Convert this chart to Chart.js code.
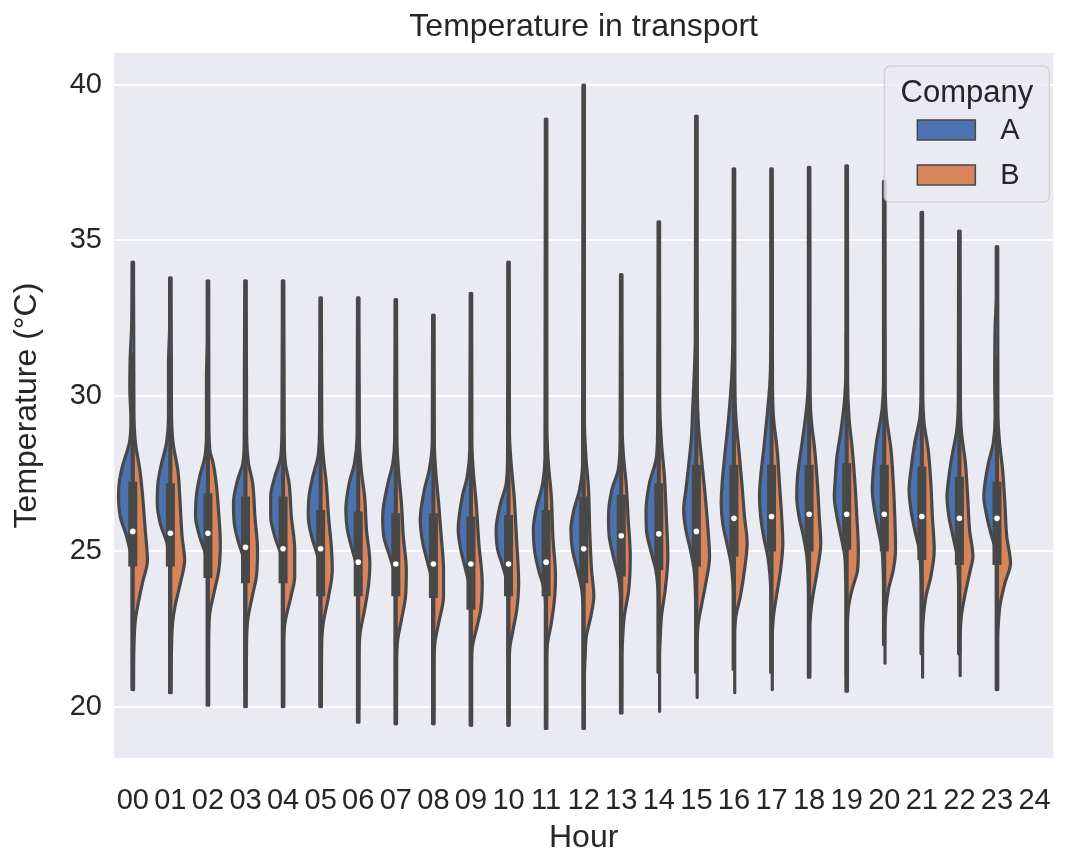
<!DOCTYPE html>
<html lang="en">
<head>
<meta charset="utf-8"/>
<title>Temperature in transport</title>
<script src="https://cdn.jsdelivr.net/npm/chart.js@4.4.0/dist/chart.umd.min.js"></script>
<style>
    body { margin: 0; background: #ffffff; }
    .wrapper { width: 1069px; height: 857px; position: relative; }
</style>
</head>
<body>
<div class="wrapper"><canvas id="violins"></canvas></div>

<script>
    // hours on the x axis (24 is an empty slot at the end)
    var hourLabels = ['00','01','02','03','04','05','06','07','08','09','10','11',
                      '12','13','14','15','16','17','18','19','20','21','22','23','24'];
    var hours = [0,1,2,3,4,5,6,7,8,9,10,11,12,13,14,15,16,17,18,19,20,21,22,23];
    var yTickValues = [20, 25, 30, 35, 40];

    // half-violin outlines: [temperature, half width in hour units], low to high
    var aShape = [
        [[20.55,0.02],[24.3,0.02],[24.8,0.04],[25.5,0.17],[26.1,0.33],[26.8,0.38],[27.3,0.35],[27.8,0.26],[28.5,0.09],[29.2,0.05],[30.3,0.08],[31.2,0.07],[32.3,0.03],[34.3,0.02]],
        [[20.45,0.02],[24.2,0.02],[24.7,0.03],[25.26,0.09],[25.9,0.27],[26.55,0.35],[27.2,0.33],[27.8,0.24],[28.5,0.1],[29.3,0.05],[31.0,0.05],[32.3,0.02],[33.8,0.02]],
        [[20.05,0.02],[24.2,0.02],[24.83,0.05],[25.47,0.22],[26.12,0.33],[26.76,0.31],[27.4,0.22],[28.05,0.08],[28.8,0.04],[30.5,0.04],[31.8,0.02],[33.7,0.02]],
        [[20.0,0.02],[24.0,0.02],[24.62,0.03],[25.26,0.18],[25.9,0.3],[26.55,0.32],[27.3,0.21],[27.83,0.07],[28.6,0.035],[30.5,0.03],[33.7,0.02]],
        [[20.0,0.02],[24.1,0.02],[24.72,0.03],[25.47,0.22],[26.12,0.33],[26.76,0.33],[27.4,0.22],[28.05,0.06],[29.0,0.03],[33.7,0.02]],
        [[20.0,0.02],[23.9,0.02],[24.4,0.03],[24.83,0.08],[25.47,0.24],[26.12,0.33],[26.76,0.31],[27.4,0.21],[28.05,0.07],[29.0,0.03],[33.15,0.02]],
        [[19.5,0.02],[23.8,0.02],[24.4,0.03],[25.05,0.16],[25.69,0.29],[26.33,0.33],[27.19,0.24],[27.83,0.1],[28.7,0.03],[33.15,0.02]],
        [[19.45,0.02],[23.7,0.02],[24.3,0.04],[24.83,0.16],[25.47,0.32],[26.12,0.35],[27.19,0.21],[27.83,0.08],[28.7,0.03],[33.1,0.02]],
        [[19.45,0.02],[23.4,0.02],[23.97,0.03],[24.62,0.15],[25.26,0.28],[26.01,0.35],[26.98,0.24],[27.62,0.11],[28.5,0.03],[32.6,0.02]],
        [[19.4,0.02],[23.2,0.02],[23.76,0.03],[24.4,0.14],[25.05,0.27],[25.69,0.34],[26.76,0.23],[27.4,0.1],[28.3,0.03],[33.3,0.02]],
        [[19.4,0.02],[23.4,0.02],[23.97,0.04],[24.62,0.18],[25.05,0.29],[25.69,0.33],[26.55,0.21],[27.19,0.06],[28.2,0.025],[34.3,0.02]],
        [[19.3,0.02],[23.2,0.02],[23.76,0.05],[24.4,0.2],[25.05,0.31],[25.69,0.34],[26.33,0.27],[27.19,0.09],[28.0,0.03],[38.9,0.02]],
        [[19.3,0.02],[23.2,0.02],[23.76,0.05],[24.4,0.17],[25.05,0.3],[25.69,0.34],[26.33,0.26],[26.98,0.11],[27.8,0.03],[40.0,0.02]],
        [[19.8,0.02],[23.3,0.02],[23.76,0.03],[24.19,0.08],[24.83,0.21],[25.47,0.32],[26.12,0.34],[26.98,0.25],[27.62,0.08],[28.6,0.03],[33.9,0.02]],
        [[21.1,0.02],[23.3,0.02],[23.87,0.03],[24.4,0.08],[25.05,0.22],[25.69,0.33],[26.33,0.34],[27.19,0.25],[28.05,0.06],[29.2,0.03],[35.6,0.02]],
        [[21.1,0.02],[23.2,0.02],[23.76,0.03],[24.4,0.06],[25.05,0.16],[25.69,0.28],[26.33,0.34],[26.98,0.28],[27.83,0.2],[28.7,0.13],[29.55,0.1],[30.62,0.06],[31.8,0.03],[39.0,0.02]],
        [[21.2,0.02],[23.4,0.02],[23.97,0.03],[24.62,0.08],[25.26,0.19],[25.9,0.3],[26.55,0.34],[27.4,0.3],[28.26,0.23],[29.33,0.14],[30.62,0.06],[31.8,0.03],[37.3,0.02]],
        [[21.1,0.02],[23.6,0.02],[24.19,0.04],[24.83,0.1],[25.47,0.21],[26.12,0.29],[26.76,0.32],[27.4,0.29],[28.26,0.21],[29.33,0.12],[30.5,0.04],[31.8,0.02],[37.3,0.02]],
        [[20.95,0.02],[23.6,0.02],[24.19,0.03],[24.83,0.06],[25.47,0.15],[26.12,0.27],[26.76,0.33],[27.4,0.31],[28.05,0.24],[28.9,0.14],[29.98,0.04],[31.0,0.02],[37.35,0.02]],
        [[20.5,0.02],[23.6,0.02],[24.19,0.03],[24.83,0.05],[25.47,0.15],[26.12,0.26],[26.76,0.33],[27.4,0.3],[28.05,0.26],[28.9,0.15],[29.98,0.05],[31.0,0.02],[37.4,0.02]],
        [[22.0,0.02],[23.8,0.02],[24.4,0.03],[25.05,0.06],[25.69,0.16],[26.33,0.26],[26.98,0.32],[27.62,0.29],[28.48,0.21],[29.55,0.06],[30.6,0.02],[36.9,0.02]],
        [[21.7,0.02],[23.8,0.02],[24.4,0.03],[25.05,0.07],[25.69,0.19],[26.33,0.29],[26.98,0.34],[27.62,0.29],[28.48,0.19],[29.33,0.05],[30.4,0.02],[35.9,0.02]],
        [[21.7,0.02],[23.6,0.02],[24.19,0.03],[24.83,0.06],[25.47,0.17],[26.12,0.28],[26.76,0.33],[27.4,0.28],[28.05,0.2],[28.9,0.07],[29.8,0.03],[35.3,0.02]],
        [[20.55,0.02],[24.4,0.02],[25.05,0.04],[25.47,0.14],[26.12,0.27],[26.76,0.35],[27.19,0.32],[27.83,0.23],[28.48,0.1],[29.3,0.05],[30.5,0.06],[32.2,0.05],[33.2,0.02],[34.8,0.02]]
    ];
    var bShape = [
        [[20.55,0.02],[21.9,0.03],[22.8,0.07],[23.3,0.14],[24.0,0.26],[24.7,0.39],[25.7,0.33],[26.8,0.26],[27.6,0.19],[28.5,0.07],[29.5,0.03],[34.3,0.02]],
        [[20.45,0.02],[21.8,0.03],[22.7,0.06],[23.2,0.12],[24.0,0.27],[24.7,0.38],[25.5,0.31],[26.55,0.26],[27.6,0.2],[28.5,0.07],[29.5,0.03],[33.8,0.02]],
        [[20.05,0.02],[21.8,0.02],[22.9,0.04],[23.65,0.16],[24.4,0.29],[25.26,0.33],[26.33,0.28],[27.19,0.22],[27.83,0.14],[28.26,0.05],[29.3,0.025],[33.7,0.02]],
        [[20.0,0.02],[22.15,0.03],[22.8,0.06],[23.55,0.18],[24.19,0.29],[25.05,0.32],[26.12,0.25],[27.19,0.19],[27.83,0.08],[28.7,0.03],[33.7,0.02]],
        [[20.0,0.02],[22.0,0.02],[22.69,0.05],[23.55,0.21],[24.19,0.31],[25.05,0.31],[26.12,0.22],[27.19,0.16],[27.83,0.06],[28.8,0.03],[33.7,0.02]],
        [[20.0,0.02],[22.15,0.03],[22.69,0.07],[23.55,0.21],[24.4,0.31],[25.05,0.29],[26.12,0.21],[27.19,0.15],[28.05,0.07],[29.0,0.03],[33.15,0.02]],
        [[19.5,0.02],[21.7,0.025],[22.37,0.05],[23.12,0.17],[23.97,0.28],[24.62,0.31],[25.69,0.22],[26.76,0.17],[27.62,0.08],[28.6,0.03],[33.15,0.02]],
        [[19.45,0.02],[21.5,0.025],[22.15,0.05],[22.8,0.15],[23.55,0.26],[24.4,0.28],[25.47,0.2],[26.55,0.15],[27.62,0.07],[28.6,0.03],[33.1,0.02]],
        [[19.45,0.02],[21.4,0.02],[22.05,0.04],[22.69,0.14],[23.55,0.27],[24.4,0.27],[25.47,0.21],[26.55,0.14],[27.62,0.06],[28.5,0.025],[32.6,0.02]],
        [[19.4,0.02],[21.2,0.02],[21.83,0.03],[22.47,0.14],[23.12,0.26],[23.97,0.3],[25.26,0.21],[26.55,0.14],[27.62,0.06],[28.5,0.025],[33.3,0.02]],
        [[19.4,0.02],[21.2,0.02],[21.83,0.03],[22.47,0.12],[23.12,0.22],[23.97,0.27],[25.47,0.21],[26.76,0.15],[27.83,0.07],[28.8,0.025],[34.3,0.02]],
        [[19.3,0.02],[21.3,0.02],[21.94,0.03],[22.69,0.14],[23.55,0.23],[24.19,0.25],[25.47,0.18],[26.76,0.14],[27.83,0.06],[29.0,0.02],[38.9,0.02]],
        [[19.3,0.02],[21.0,0.02],[21.62,0.04],[22.26,0.07],[22.9,0.19],[23.55,0.27],[24.4,0.21],[25.69,0.16],[26.98,0.13],[28.05,0.06],[29.2,0.02],[40.0,0.02]],
        [[19.8,0.02],[21.6,0.02],[22.26,0.04],[22.9,0.08],[23.76,0.2],[24.83,0.24],[26.12,0.18],[27.19,0.13],[28.05,0.06],[29.0,0.025],[33.9,0.02]],
        [[19.85,0.02],[21.6,0.02],[22.26,0.04],[22.9,0.07],[23.76,0.17],[24.83,0.24],[26.12,0.2],[27.4,0.15],[28.5,0.07],[29.8,0.025],[35.6,0.02]],
        [[20.3,0.02],[22.0,0.02],[22.69,0.05],[23.22,0.13],[23.97,0.25],[24.83,0.35],[25.69,0.31],[26.98,0.22],[28.05,0.13],[29.12,0.05],[30.2,0.025],[39.0,0.02]],
        [[20.45,0.02],[22.2,0.02],[22.9,0.05],[23.55,0.17],[24.4,0.28],[25.26,0.35],[26.12,0.28],[27.19,0.21],[28.26,0.13],[29.33,0.05],[30.5,0.025],[37.3,0.02]],
        [[20.55,0.02],[22.2,0.02],[22.9,0.05],[23.55,0.13],[24.4,0.24],[25.26,0.3],[26.12,0.27],[27.19,0.21],[28.26,0.15],[29.33,0.05],[30.5,0.025],[37.3,0.02]],
        [[20.95,0.02],[22.5,0.02],[23.1,0.05],[23.55,0.1],[24.4,0.22],[25.26,0.31],[26.12,0.27],[27.19,0.22],[28.26,0.15],[29.33,0.05],[30.5,0.025],[37.35,0.02]],
        [[20.5,0.02],[22.5,0.02],[23.22,0.05],[23.76,0.14],[24.4,0.29],[25.05,0.31],[26.12,0.27],[27.19,0.22],[28.26,0.15],[29.33,0.06],[30.5,0.025],[37.4,0.02]],
        [[21.4,0.02],[22.5,0.02],[23.22,0.05],[23.76,0.11],[24.4,0.24],[25.05,0.3],[26.12,0.28],[27.19,0.24],[28.26,0.18],[29.33,0.06],[30.4,0.025],[36.9,0.02]],
        [[20.95,0.02],[22.3,0.02],[23.0,0.05],[23.55,0.11],[24.19,0.24],[25.05,0.33],[26.12,0.28],[27.19,0.24],[28.26,0.17],[29.12,0.06],[30.2,0.025],[35.9,0.02]],
        [[21.0,0.02],[22.2,0.02],[22.9,0.05],[23.55,0.14],[24.4,0.29],[24.83,0.36],[25.69,0.27],[26.76,0.22],[27.83,0.16],[28.9,0.05],[30.0,0.025],[35.3,0.02]],
        [[20.55,0.02],[22.2,0.02],[22.9,0.05],[23.33,0.09],[23.97,0.21],[24.62,0.36],[25.47,0.26],[26.55,0.21],[27.62,0.15],[28.48,0.07],[29.4,0.025],[34.8,0.02]]
    ];

    // inner box: quartiles, median, whisker ends
    var boxLow  = [24.51,24.51,24.14,23.97,23.97,23.55,23.55,23.55,23.5,23.12,23.55,23.55,23.97,24.19,24.4,24.51,24.83,24.99,24.99,25.05,24.99,24.72,24.56,24.56];
    var boxHigh = [27.24,27.19,26.87,26.76,26.76,26.33,26.28,26.22,26.22,26.12,26.17,26.33,26.76,26.82,27.19,27.78,27.78,27.78,27.78,27.83,27.78,27.73,27.4,27.24];
    var medians = [25.64,25.58,25.58,25.13,25.08,25.08,24.65,24.59,24.59,24.59,24.59,24.65,25.08,25.5,25.56,25.64,26.06,26.12,26.19,26.19,26.19,26.12,26.06,26.06];
    var whiskerLow  = [20.6,20.5,20.6,20.5,20.4,20.0,19.9,19.9,19.8,19.5,19.7,19.7,20.3,20.6,21.1,21.1,21.2,21.1,21.1,21.0,22.0,21.7,21.7,20.6];
    var whiskerHigh = [31.4,31.3,31.1,30.9,30.9,30.5,30.4,30.2,30.2,30.6,30.1,30.5,30.9,30.8,31.4,32.6,32.2,32.0,32.0,32.0,32.0,32.2,31.6,31.3];

    var companies = ['A', 'B'];
    var companyColors = ['#4c72b0', '#d8845a'];
    var outline = '#484848';
    var textColor = '#262626';
    var fontFamily = "'Liberation Sans', Arial, sans-serif";

    var datasets = [];

    hours.forEach(function (h) {
        // left half is company A, right half company B
        [aShape, bShape].forEach(function (shape, k) {
            var side = k === 0 ? -1 : 1;
            datasets.push({
                label: companies[k] + ' ' + hourLabels[h],
                data: shape[h].map(function (p) { return {x: h + side * p[1], y: p[0]}; }),
                borderColor: outline,
                borderWidth: 3.2,
                borderCapStyle: 'round',
                borderJoinStyle: 'round',
                backgroundColor: companyColors[k],
                fill: {value: h},
                pointRadius: 0,
                cubicInterpolationMode: 'monotone',
                order: 3
            });
        });
        datasets.push({
            label: 'whisker ' + hourLabels[h],
            data: [{x: h, y: whiskerLow[h]}, {x: h, y: whiskerHigh[h]}],
            borderColor: outline,
            borderWidth: 4,
            fill: false,
            pointRadius: 0,
            order: 2
        });
        datasets.push({
            label: 'box ' + hourLabels[h],
            data: [{x: h, y: boxLow[h]}, {x: h, y: boxHigh[h]}],
            borderColor: outline,
            borderWidth: 9,
            borderCapStyle: 'butt',
            fill: false,
            pointRadius: 0,
            order: 1
        });
    });

    datasets.push({
        label: 'median',
        data: hours.map(function (h) { return {x: h, y: medians[h]}; }),
        showLine: false,
        pointRadius: 2.8,
        pointBackgroundColor: '#ffffff',
        pointBorderWidth: 0,
        order: 0
    });

    var plotBackground = {
        id: 'plotBackground',
        beforeDraw: function (chart) {
            var a = chart.chartArea, ctx = chart.ctx;
            ctx.save();
            ctx.fillStyle = '#eaeaf2';
            ctx.fillRect(a.left, a.top, a.right - a.left, a.bottom - a.top);
            ctx.restore();
        }
    };

    // legend box in the upper right corner of the plot
    var companyLegend = {
        id: 'companyLegend',
        afterDraw: function (chart) {
            var a = chart.chartArea, ctx = chart.ctx;
            var w = 165, hgt = 136;
            var x = a.right - 4 - w, y = a.top + 13;
            ctx.save();
            ctx.beginPath();
            ctx.roundRect(x, y, w, hgt, 6);
            ctx.fillStyle = 'rgba(234,234,242,0.8)';
            ctx.fill();
            ctx.strokeStyle = 'rgba(204,204,204,0.8)';
            ctx.lineWidth = 1.5;
            ctx.stroke();

            ctx.fillStyle = textColor;
            ctx.textBaseline = 'middle';
            ctx.textAlign = 'center';
            ctx.font = '31px ' + fontFamily;
            ctx.fillText('Company', x + w / 2, y + 27);

            ctx.textAlign = 'left';
            ctx.font = '29px ' + fontFamily;
            companies.forEach(function (name, i) {
                var cy = y + 64 + i * 45;
                ctx.fillStyle = companyColors[i];
                ctx.fillRect(x + 33, cy - 10, 58, 20);
                ctx.strokeStyle = outline;
                ctx.lineWidth = 1.5;
                ctx.strokeRect(x + 33, cy - 10, 58, 20);
                ctx.fillStyle = textColor;
                ctx.fillText(name, x + 116, cy + 1);
            });
            ctx.restore();
        }
    };

    Chart.defaults.color = textColor;
    Chart.defaults.font.family = fontFamily;

    var chart = new Chart(document.getElementById('violins'), {
        type: 'line',
        data: {datasets: datasets},
        plugins: [plotBackground, companyLegend],
        options: {
            indexAxis: 'y',
            animation: false,
            responsive: true,
            maintainAspectRatio: false,
            events: [],
            layout: {padding: {left: 0, right: 1, top: 0, bottom: 0}},
            plugins: {
                legend: {display: false},
                tooltip: {enabled: false},
                title: {
                    display: true,
                    text: 'Temperature in transport',
                    fullSize: false,
                    color: textColor,
                    font: {size: 32, weight: 'normal'},
                    padding: {top: 8.4, bottom: 6.2}
                }
            },
            scales: {
                x: {
                    type: 'linear',
                    position: 'bottom',
                    min: -0.5,
                    max: 24.5,
                    afterBuildTicks: function (s) {
                        s.ticks = hourLabels.map(function (_, i) { return {value: i}; });
                    },
                    afterFit: function (s) { s.height = 99; },
                    grid: {display: false},
                    border: {display: false},
                    ticks: {
                        autoSkip: false,
                        maxRotation: 0,
                        padding: 18,
                        font: {size: 29},
                        callback: function (v) { return hourLabels[v]; }
                    },
                    title: {display: true, text: 'Hour', font: {size: 32}, padding: {top: 0, bottom: 0}}
                },
                y: {
                    type: 'linear',
                    position: 'left',
                    min: 18.35,
                    max: 41.03,
                    afterBuildTicks: function (s) {
                        s.ticks = yTickValues.map(function (v) { return {value: v}; });
                    },
                    afterFit: function (s) { s.width = 114; },
                    grid: {color: '#ffffff', lineWidth: 2, drawTicks: false},
                    border: {display: false},
                    ticks: {padding: 12, font: {size: 29}},
                    title: {display: true, text: 'Temperature (°C)', font: {size: 32}, padding: {top: 7.5, bottom: 0}}
                }
            }
        }
    });
</script>
</body>
</html>
